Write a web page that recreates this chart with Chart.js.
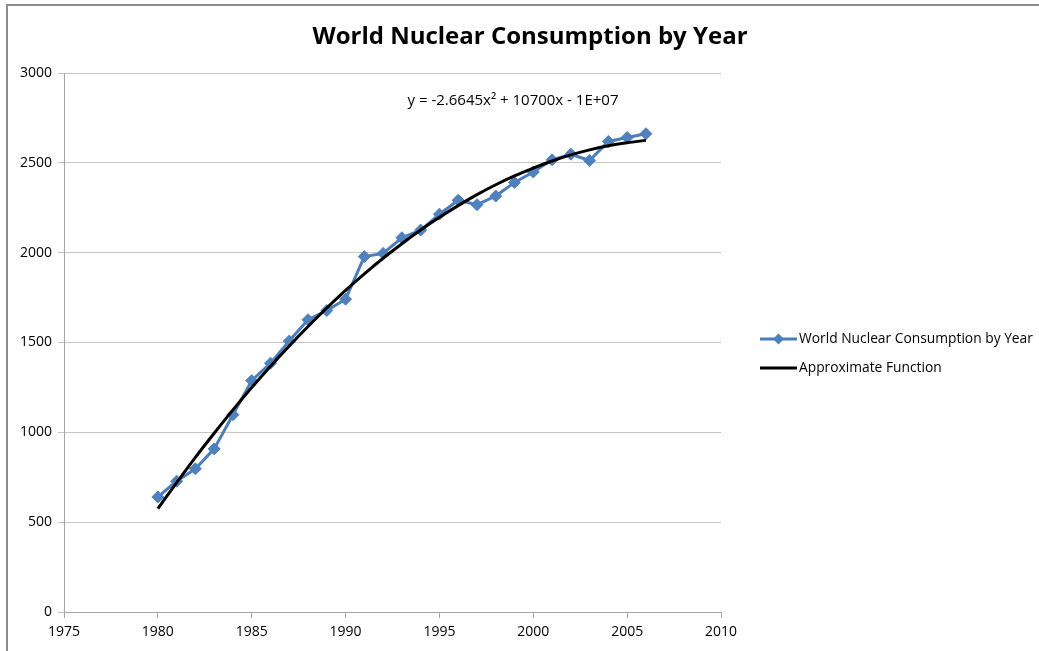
<!DOCTYPE html>
<html>
<head>
<meta charset="utf-8">
<script src="https://cdn.jsdelivr.net/npm/chart.js@4.4.1/dist/chart.umd.min.js"></script>
<style>
html,body{margin:0;padding:0;background:#fff;}
#wrap{width:1039px;height:651px;position:relative;}
canvas{display:block;}
</style>
</head>
<body>
<div id="wrap"><canvas id="c" width="1039" height="651"></canvas></div>
<script>
// ---- data ----
const years = [1980,1981,1982,1983,1984,1985,1986,1987,1988,1989,1990,1991,1992,1993,1994,1995,1996,1997,1998,1999,2000,2001,2002,2003,2004,2005,2006];
const consumption = [640,728,797,908,1098,1288,1385,1508,1627,1678,1741,1978,1996,2083,2126,2214,2292,2267,2315,2391,2449,2517,2548,2513,2619,2641,2662];
const fitValues = [575,720,861,995,1125,1249,1368,1481,1589,1692,1790,1882,1969,2050,2126,2197,2262,2323,2378,2427,2471,2510,2544,2572,2595,2612,2625];
const xTicks = [1975,1980,1985,1990,1995,2000,2005,2010];
const yTicks = [0,500,1000,1500,2000,2500,3000];
const titleText = 'World Nuclear Consumption by Year';
const seriesNames = ['World Nuclear Consumption by Year','Approximate Function'];
const equationText = 'y = -2.6645x\u00B2 + 10700x - 1E+07';

const FONT = "'Open Sans', 'Liberation Sans', sans-serif";
const BLUE_LINE = '#4A7EBB';
const BLUE_FILL = '#4F81BD';

function diamond(ctx, x, y, r, color) {
  ctx.beginPath();
  ctx.moveTo(x, y - r);
  ctx.lineTo(x + r, y);
  ctx.lineTo(x, y + r);
  ctx.lineTo(x - r, y);
  ctx.closePath();
  ctx.fillStyle = color;
  ctx.fill();
}

const decoPlugin = {
  id: 'deco',
  afterDraw(chart, args, opts) {
    const ctx = chart.ctx;
    const area = chart.chartArea;
    ctx.save();
    // outer chart border
    ctx.strokeStyle = '#8c8c8c';
    ctx.lineWidth = 2;
    ctx.beginPath();
    ctx.moveTo(7, 651);
    ctx.lineTo(7, 5);
    ctx.lineTo(1039, 5);
    ctx.stroke();

    // title
    ctx.fillStyle = '#000';
    ctx.font = "bold 24px " + FONT;
    ctx.textAlign = 'center';
    ctx.textBaseline = 'middle';
    ctx.fillText(titleText, 530, 37);

    // trendline equation, anchored through the scales
    const ex = chart.scales.x.getPixelForValue(opts.eqAt[0]);
    const ey = chart.scales.y.getPixelForValue(opts.eqAt[1]);
    ctx.font = "15px " + FONT;
    ctx.textAlign = 'left';
    ctx.fillText(equationText, ex, ey);

    // legend
    const lx = area.right + 39;
    const rows = [339, 368];
    chart.data.datasets.forEach((ds) => {
      const y = rows[ds.legendIndex];
      ctx.strokeStyle = ds.borderColor;
      ctx.lineWidth = ds.borderWidth;
      ctx.beginPath();
      ctx.moveTo(lx, y);
      ctx.lineTo(lx + 37, y);
      ctx.stroke();
      if (ds.pointRadius > 0) diamond(ctx, lx + 18.5, y, 5.5, ds.pointBackgroundColor);
      ctx.fillStyle = '#000';
      ctx.font = "13.8px " + FONT;
      ctx.textAlign = 'left';
      ctx.textBaseline = 'middle';
      ctx.fillText(ds.label, lx + 39, y);
    });
    ctx.restore();
  }
};

new Chart(document.getElementById('c'), {
  type: 'line',
  data: {
    datasets: [
      {
        label: seriesNames[1],
        legendIndex: 1,
        data: years.map((x, i) => ({x: x, y: fitValues[i]})),
        borderColor: '#000000',
        borderWidth: 3,
        pointRadius: 0,
        cubicInterpolationMode: 'monotone',
        order: 0
      },
      {
        label: seriesNames[0],
        legendIndex: 0,
        data: years.map((x, i) => ({x: x, y: consumption[i]})),
        borderColor: BLUE_LINE,
        borderWidth: 3,
        pointStyle: 'rectRot',
        pointRadius: 6,
        pointBackgroundColor: BLUE_FILL,
        pointBorderColor: BLUE_FILL,
        pointBorderWidth: 1,
        tension: 0,
        order: 1
      }
    ]
  },
  options: {
    responsive: false,
    animation: false,
    devicePixelRatio: 1,
    layout: {padding: {left: 0, top: 73, right: 318, bottom: 0}},
    plugins: {
      legend: {display: false},
      title: {display: false},
      tooltip: {enabled: false},
      deco: {eqAt: [1993.3, 2845]}
    },
    scales: {
      x: {
        type: 'linear',
        min: 1975,
        max: 2010,
        afterBuildTicks: s => { s.ticks = xTicks.map(v => ({value: v})); },
        afterFit: s => { s.height = 39; },
        grid: {drawOnChartArea: false, drawTicks: true, tickLength: 6, color: '#a6a6a6'},
        border: {display: true, color: '#a6a6a6', width: 1},
        ticks: {color: '#000', font: {family: FONT, size: 14}, padding: 6, maxRotation: 0, autoSkip: false,
                callback: v => String(v)}
      },
      y: {
        min: 0,
        max: 3000,
        afterBuildTicks: s => { s.ticks = yTicks.map(v => ({value: v})); },
        afterFit: s => { s.width = 64; },
        grid: {drawOnChartArea: true, drawTicks: true, tickLength: 6, color: '#c4c4c4'},
        border: {display: true, color: '#a6a6a6', width: 1},
        ticks: {color: '#000', font: {family: FONT, size: 14}, padding: 6, callback: v => String(v)}
      }
    }
  },
  plugins: [decoPlugin]
});
</script>
</body>
</html>
